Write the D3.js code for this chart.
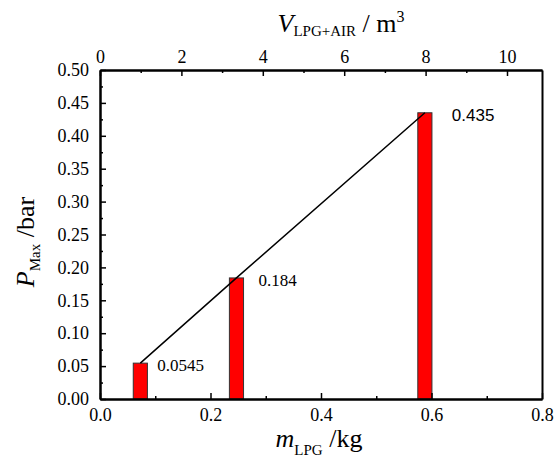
<!DOCTYPE html>
<html>
<head>
<meta charset="utf-8">
<script src="https://cdn.jsdelivr.net/npm/d3@7"></script>
<style>
  body { margin: 0; background: #fff; }
  svg { display: block; }
  .axis text { font-family: "Liberation Serif", "Times New Roman", serif; font-size: 18px; fill: #000; }
  .axis path, .axis line { stroke: #000; }
  .axis path { stroke-width: 2; }
  .axis line { stroke-width: 1.5; }
</style>
</head>
<body>
<div id="chart"></div>
<script>
// data
const massLPG = [0.073, 0.247, 0.588];      // kg
const pMax = [0.0545, 0.184, 0.435];         // bar
const valueLabels = ["0.0545", "0.184", "0.435"];
const labelDx = [17, 22, 27];

const xTicks = [0, 0.2, 0.4, 0.6, 0.8];
const yTicks = [0, 0.05, 0.1, 0.15, 0.2, 0.25, 0.3, 0.35, 0.4, 0.45, 0.5];
const vTicks = [0, 2, 4, 6, 8, 10];

// layout
const W = 558, H = 466;
const plotL = 100, plotR = 542, plotT = 70, plotB = 399;
const serif = '"Liberation Serif", "Times New Roman", serif';
const sans = '"Liberation Sans", Arial, sans-serif';
const labelFonts = [serif, serif, sans];

const svg = d3.select("#chart").append("svg")
  .attr("width", W).attr("height", H);

const x = d3.scaleLinear().domain([0, 0.8]).range([plotL, plotR]);
const y = d3.scaleLinear().domain([0, 0.5]).range([plotB, plotT]);
const xTop = d3.scaleLinear().domain([0, (plotR - plotL) / 40.7]).range([plotL, plotR]);

const barHalf = 0.0128;

// bars
svg.selectAll(".bar")
  .data(massLPG)
  .enter()
  .append("rect")
  .attr("class", "bar")
  .attr("x", (d) => x(d - barHalf))
  .attr("width", (d) => x(d + barHalf) - x(d - barHalf))
  .attr("y", (d, i) => y(pMax[i]))
  .attr("height", (d, i) => y(0) - y(pMax[i]))
  .attr("fill", "#ff0000")
  .attr("stroke", "#333")
  .attr("stroke-width", 1);

// line through the points
const line = d3.line().x((d) => x(d[0])).y((d) => y(d[1]));
svg.append("path")
  .datum(massLPG.map((m, i) => [m, pMax[i]]))
  .attr("d", line)
  .attr("fill", "none")
  .attr("stroke", "#000")
  .attr("stroke-width", 1.5);

// value labels
svg.selectAll(".val")
  .data(valueLabels)
  .enter()
  .append("text")
  .attr("x", (d, i) => x(massLPG[i]) + labelDx[i])
  .attr("y", (d, i) => y(pMax[i]) + 8)
  .attr("font-family", (d, i) => labelFonts[i])
  .attr("font-size", 17)
  .text((d) => d);

// axes: major + minor ticks, pointing inward
function styleAxis(g) {
  g.attr("class", "axis").attr("font-family", serif).attr("font-size", 18);
}

svg.append("g").call(styleAxis)
  .attr("transform", `translate(0,${plotB})`)
  .call(d3.axisBottom(x).tickValues(d3.range(0.1, 0.8, 0.2)).tickSize(-3).tickSizeOuter(0).tickFormat(""));
svg.append("g").call(styleAxis)
  .attr("transform", `translate(0,${plotB})`)
  .call(d3.axisBottom(x).tickValues(xTicks).tickSize(-6).tickSizeOuter(0).tickPadding(9).tickFormat(d3.format(".1f")));

svg.append("g").call(styleAxis)
  .attr("transform", `translate(${plotL},0)`)
  .call(d3.axisLeft(y).tickValues(d3.range(0.025, 0.5, 0.05)).tickSize(-3).tickSizeOuter(0).tickFormat(""));
svg.append("g").call(styleAxis)
  .attr("transform", `translate(${plotL},0)`)
  .call(d3.axisLeft(y).tickValues(yTicks).tickSize(-6).tickSizeOuter(0).tickPadding(11).tickFormat(d3.format(".2f")));

svg.append("g").call(styleAxis)
  .attr("transform", `translate(0,${plotT})`)
  .call(d3.axisTop(xTop).tickValues(d3.range(1, 11, 2)).tickSize(-3).tickSizeOuter(0).tickFormat(""));
svg.append("g").call(styleAxis)
  .attr("transform", `translate(0,${plotT})`)
  .call(d3.axisTop(xTop).tickValues(vTicks).tickSize(-6).tickSizeOuter(0).tickPadding(7).tickFormat(d3.format("d")));

svg.append("g").call(styleAxis)
  .attr("transform", `translate(${plotR},0)`)
  .call(d3.axisRight(y).tickValues([]).tickSizeOuter(0));

// re-apply fonts after the axis generator set its own
svg.selectAll(".axis").attr("font-family", serif).attr("font-size", 18);

// axis titles
const xt = svg.append("text")
  .attr("x", 319).attr("y", 447)
  .attr("text-anchor", "middle")
  .attr("font-family", serif).attr("font-size", 26);
xt.append("tspan").style("font-style", "italic").text("m");
xt.append("tspan").attr("dy", 8).attr("font-size", 15).text("LPG");
xt.append("tspan").attr("dy", -8).text(" /kg");

const tt = svg.append("text")
  .attr("x", 341).attr("y", 32)
  .attr("text-anchor", "middle")
  .attr("font-family", serif).attr("font-size", 26);
tt.append("tspan").style("font-style", "italic").text("V");
tt.append("tspan").attr("dy", 4).attr("font-size", 15).text("LPG+AIR");
tt.append("tspan").attr("dy", -4).text(" / m");
tt.append("tspan").attr("dy", -10).attr("font-size", 16).text("3");

const yt = svg.append("text")
  .attr("transform", "translate(34,242) rotate(-90)")
  .attr("text-anchor", "middle")
  .attr("font-family", serif).attr("font-size", 26);
yt.append("tspan").style("font-style", "italic").text("P");
yt.append("tspan").attr("dy", 6).attr("font-size", 15).text("Max");
yt.append("tspan").attr("dy", -6).text(" /bar");
</script>
</body>
</html>
